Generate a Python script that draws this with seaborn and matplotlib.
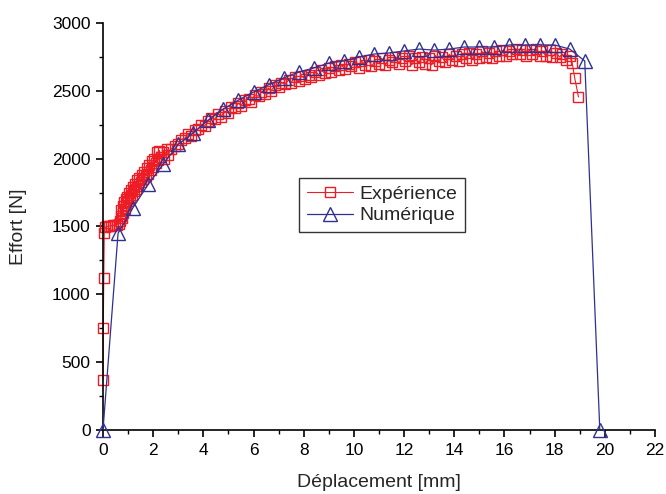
import matplotlib
matplotlib.use("Agg")
import matplotlib.pyplot as plt
import seaborn as sns
from matplotlib.ticker import MultipleLocator

# ---------------- data ----------------
exp_disp = [
    0.00, 0.01, 0.03, 0.05, 0.08, 0.15, 0.22, 0.30, 0.38, 0.46,
    0.54, 0.62, 0.66, 0.70, 0.72, 0.75, 0.78, 0.80, 0.83, 0.86,
    0.90, 0.93, 0.96, 1.00, 1.03, 1.07, 1.10, 1.14, 1.18, 1.22,
    1.26, 1.30, 1.35, 1.40, 1.45, 1.50, 1.55, 1.60, 1.65, 1.70,
    1.75, 1.80, 1.85, 1.90, 1.95, 2.00, 2.05, 2.10, 2.15, 2.20,
    2.25, 2.30, 2.40, 2.45, 2.55, 2.60, 2.70, 2.85, 3.00, 3.10,
    3.25, 3.40, 3.50, 3.65, 3.80, 3.90, 4.05, 4.20, 4.30, 4.45,
    4.60, 4.70, 4.85, 5.00, 5.10, 5.25, 5.40, 5.50, 5.65, 5.80,
    5.90, 6.05, 6.20, 6.30, 6.45, 6.60, 6.70, 6.85, 7.00, 7.10,
    7.25, 7.40, 7.50, 7.65, 7.80, 7.90, 8.05, 8.20, 8.30, 8.45,
    8.60, 8.70, 8.85, 9.00, 9.10, 9.25, 9.40, 9.50, 9.65, 9.80,
    9.90, 10.05, 10.20, 10.30, 10.45, 10.60, 10.70, 10.85, 11.00, 11.10,
    11.25, 11.40, 11.50, 11.65, 11.80, 11.90, 12.05, 12.20, 12.30, 12.45,
    12.60, 12.70, 12.85, 13.00, 13.10, 13.25, 13.40, 13.50, 13.65, 13.80,
    13.90, 14.05, 14.20, 14.30, 14.45, 14.60, 14.70, 14.85, 15.00, 15.10,
    15.25, 15.40, 15.50, 15.65, 15.80, 15.90, 16.05, 16.20, 16.30, 16.45,
    16.60, 16.70, 16.85, 17.00, 17.10, 17.25, 17.40, 17.50, 17.65, 17.80,
    17.90, 18.05, 18.20, 18.30, 18.45, 18.60, 18.70, 18.80, 18.95,
]
exp_force = [
    370, 750, 1120, 1450, 1495, 1500, 1503, 1505, 1508, 1510,
    1512, 1515, 1540, 1580, 1620, 1560, 1650, 1600, 1680, 1630,
    1700, 1660, 1720, 1690, 1750, 1710, 1770, 1730, 1790, 1760,
    1810, 1780, 1840, 1800, 1860, 1830, 1880, 1850, 1900, 1870,
    1930, 1890, 1950, 1920, 1980, 1940, 2000, 1970, 2050, 1990,
    2060, 2010, 2050, 2000, 2070, 2030, 2070, 2090, 2110, 2140,
    2150, 2180, 2170, 2210, 2220, 2250, 2240, 2280, 2300, 2290,
    2330, 2310, 2350, 2340, 2380, 2370, 2410, 2390, 2430, 2440,
    2420, 2470, 2460, 2490, 2480, 2520, 2500, 2540, 2530, 2560,
    2550, 2580, 2560, 2600, 2570, 2610, 2590, 2620, 2600, 2640,
    2620, 2650, 2630, 2670, 2640, 2680, 2650, 2690, 2660, 2700,
    2680, 2710, 2670, 2720, 2690, 2730, 2680, 2720, 2700, 2740,
    2690, 2730, 2710, 2750, 2700, 2740, 2720, 2760, 2690, 2740,
    2710, 2750, 2700, 2740, 2690, 2760, 2720, 2750, 2710, 2770,
    2730, 2760, 2720, 2770, 2740, 2780, 2730, 2770, 2740, 2790,
    2750, 2780, 2740, 2790, 2760, 2800, 2760, 2790, 2770, 2810,
    2770, 2800, 2760, 2800, 2770, 2810, 2760, 2790, 2760, 2800,
    2750, 2780, 2750, 2770, 2730, 2760, 2705, 2595, 2455,
]

num_disp = [
    0.0, 0.6, 1.2, 1.8, 2.4, 3.0, 3.6, 4.2, 4.8, 5.4,
    6.0, 6.6, 7.2, 7.8, 8.4, 9.0, 9.6, 10.2, 10.8, 11.4,
    12.0, 12.6, 13.2, 13.8, 14.4, 15.0, 15.6, 16.2, 16.8, 17.4,
    18.0, 18.6, 19.2, 19.8,
]
num_force = [
    0, 1450, 1640, 1810, 1960, 2105, 2190, 2285, 2366, 2432,
    2491, 2545, 2595, 2639, 2668, 2705, 2720, 2749, 2771, 2779,
    2794, 2808, 2800, 2808, 2823, 2823, 2823, 2838, 2838, 2838,
    2838, 2808, 2720, 0,
]

labels = ["Expérience", "Numérique"]
x_label = "Déplacement [mm]"
y_label = "Effort [N]"

# ---------------- style ----------------
sns.set_theme(style="ticks")
plt.rcParams["font.family"] = ["Liberation Sans", "DejaVu Sans"]

red = "#ee1c24"
blue = "#2e3192"

fig = plt.figure(figsize=(6.66, 4.94), dpi=100)
ax = fig.add_axes([103 / 666, 1 - 430 / 494, 552 / 666, 407 / 494])

sns.lineplot(x=exp_disp, y=exp_force, ax=ax, sort=False, estimator=None,
             color=red, linewidth=0.8, marker="s", markersize=7,
             markerfacecolor="none", markeredgecolor=red, markeredgewidth=1.0,
             label=labels[0], clip_on=False, zorder=2)
sns.lineplot(x=num_disp, y=num_force, ax=ax, sort=False, estimator=None,
             color=blue, linewidth=0.9, marker="^", markersize=9.5,
             markerfacecolor="none", markeredgecolor=blue, markeredgewidth=1.0,
             label=labels[1], clip_on=False, zorder=3)

ax.set_xlim(0, 22)
ax.set_ylim(0, 3000)
ax.xaxis.set_major_locator(MultipleLocator(2))
ax.xaxis.set_minor_locator(MultipleLocator(1))
ax.yaxis.set_major_locator(MultipleLocator(500))
ax.yaxis.set_minor_locator(MultipleLocator(250))

for s in ["top", "right"]:
    ax.spines[s].set_visible(False)
for s in ["left", "bottom"]:
    ax.spines[s].set_color("black")
    ax.spines[s].set_linewidth(1.2)

ax.tick_params(which="major", direction="out", length=5, width=1.2,
               labelsize=12.5, colors="black", pad=4)
ax.tick_params(which="minor", direction="out", length=3, width=1.0, colors="black")

ax.set_xlabel(x_label, fontsize=14, labelpad=12)
ax.set_ylabel(y_label, fontsize=14, labelpad=18)

leg = ax.legend(loc="center", bbox_to_anchor=(0.505, 0.553), fontsize=14,
                frameon=True, fancybox=False, shadow=False, handlelength=2.4,
                handletextpad=0.3, borderpad=0.4, labelspacing=0.2)
leg.get_frame().set_edgecolor("black")
leg.get_frame().set_linewidth(1.0)

fig.savefig("out.png", dpi=100)
